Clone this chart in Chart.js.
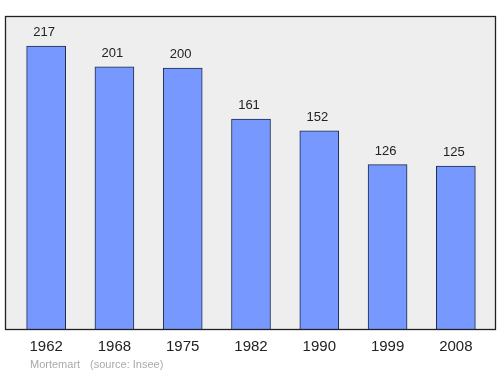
<!DOCTYPE html>
<html>
<head>
<meta charset="utf-8">
<script src="https://cdn.jsdelivr.net/npm/chart.js@4"></script>
<style>
  html, body { margin: 0; padding: 0; background: #ffffff; }
  #wrap { width: 500px; height: 374px; }
</style>
</head>
<body>
<div id="wrap"><canvas id="chart" width="500" height="374"></canvas></div>
<script>
// Population by census year
var YEARS = ["1962", "1968", "1975", "1982", "1990", "1999", "2008"];
var POPULATION = [217, 201, 200, 161, 152, 126, 125];
var Y_MAX = 240;
var PLACE = "Mortemart";
var SOURCE = "(source: Insee)";

var FONT = "'Liberation Sans', Arial, sans-serif";

// ── Frame, value labels, year labels and footer ──
var decorations = {
    id: "decorations",
    beforeDatasetsDraw: function (chart) {
        var ctx = chart.ctx;
        var a = chart.chartArea;
        ctx.save();
        ctx.fillStyle = "#eeeeee";
        ctx.fillRect(a.left - 7, a.top, a.right - a.left + 13, a.bottom - a.top);
        ctx.restore();
    },
    afterDatasetsDraw: function (chart) {
        var ctx = chart.ctx;
        var a = chart.chartArea;
        var meta = chart.getDatasetMeta(0);
        ctx.save();
        ctx.strokeStyle = "#222222";
        ctx.lineWidth = 1.3;
        ctx.strokeRect(a.left - 6.5, a.top + 0.5, a.right - a.left + 12, a.bottom - a.top);

        ctx.fillStyle = "#222222";
        ctx.textAlign = "center";
        ctx.textBaseline = "alphabetic";
        ctx.font = "13px " + FONT;
        meta.data.forEach(function (bar, i) {
            ctx.fillText(String(POPULATION[i]), bar.x - 2, bar.y - 10);
        });

        ctx.font = "15px " + FONT;
        ctx.textBaseline = "middle";
        meta.data.forEach(function (bar, i) {
            ctx.fillText(YEARS[i], bar.x, a.bottom + 18);
        });

        ctx.font = "11px " + FONT;
        ctx.fillStyle = "#aaaaaa";
        ctx.textAlign = "left";
        ctx.fillText(PLACE, 30, a.bottom + 36);
        ctx.fillText(SOURCE, 90, a.bottom + 36);
        ctx.restore();
    }
};

new Chart(document.getElementById("chart"), {
    type: "bar",
    data: {
        labels: YEARS,
        datasets: [{
            data: POPULATION,
            backgroundColor: "#7799ff",
            borderColor: "#1a2a4a",
            borderWidth: 1,
            borderSkipped: "bottom",
            barThickness: 39
        }]
    },
    options: {
        responsive: false,
        animation: false,
        layout: { padding: { left: 12, right: 10, top: 16, bottom: 45 } },
        plugins: { legend: { display: false }, tooltip: { enabled: false } },
        scales: {
            x: { display: false, offset: true },
            y: { display: false, min: 0, max: Y_MAX }
        }
    },
    plugins: [decorations]
});
</script>
</body>
</html>
